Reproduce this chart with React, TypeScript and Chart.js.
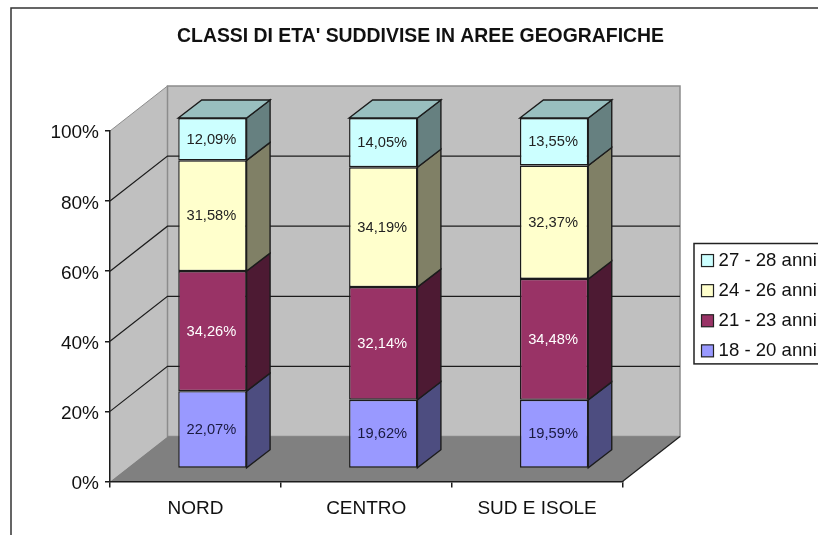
import React, { useEffect, useRef } from "react";
import { Chart, registerables } from "chart.js";

Chart.register(...registerables);

const categories = ["NORD", "CENTRO", "SUD E ISOLE"];
const seriesNames = ["18 - 20 anni", "21 - 23 anni", "24 - 26 anni", "27 - 28 anni"];
const age18to20 = [22.07, 19.62, 19.59];
const age21to23 = [34.26, 32.14, 34.48];
const age24to26 = [31.58, 34.19, 32.37];
const age27to28 = [12.09, 14.05, 13.55];
const titleText = "CLASSI DI ETA' SUDDIVISE IN AREE GEOGRAFICHE";

const frontColors = ["#9999FF", "#993366", "#FFFFCC", "#CCFFFF"];
const sideColors = ["#4D4D80", "#4D1A33", "#808066", "#668080"];
const topColors = ["#7373BF", "#73264D", "#BFBF99", "#99BFBF"];
const labelColors = ["#1a1a40", "#ffffff", "#222222", "#222222"];

const FONT = "'Liberation Sans', Arial, sans-serif";
const INK = "#1c1c1c";
const WALL_DX = 57.5;
const WALL_DY = -45;
const BAR_DX = 17;
const BAR_DY = -13;
const SIDE_DX = 23.5;
const SIDE_DY = -18;

function poly(ctx: CanvasRenderingContext2D, pts: number[][], fill: string | null, stroke: string | null, lw = 1) {
  ctx.beginPath();
  pts.forEach((p, i) => (i ? ctx.lineTo(p[0], p[1]) : ctx.moveTo(p[0], p[1])));
  ctx.closePath();
  if (fill) {
    ctx.fillStyle = fill;
    ctx.fill();
  }
  if (stroke) {
    ctx.strokeStyle = stroke;
    ctx.lineWidth = lw;
    ctx.stroke();
  }
}

const scene3d = {
  id: "scene3d",
  afterLayout(chart: any) {
    const lg = chart.legend;
    lg.left = 694;
    lg.right = 830;
    lg.width = 136;
    lg.top = 235.7;
    lg.bottom = 375.7;
    lg.height = 140;
  },
  afterUpdate(chart: any) {
    chart.scales.y.getLabelItems().forEach((item: any) => {
      item.textOffset += 2.2;
    });
  },
  beforeDraw(chart: any) {
    const ctx = chart.ctx as CanvasRenderingContext2D;
    const y = chart.scales.y;
    const a = chart.chartArea;
    const y0 = y.getPixelForValue(0);
    const y100 = y.getPixelForValue(100);
    ctx.save();
    // outer frame
    ctx.strokeStyle = "#333333";
    ctx.lineWidth = 1.5;
    ctx.beginPath();
    ctx.moveTo(11, 535);
    ctx.lineTo(11, 8);
    ctx.lineTo(818, 8);
    ctx.stroke();
    // walls and floor
    const bx = a.left + WALL_DX;
    const rx = a.right + WALL_DX;
    poly(ctx, [[a.left, y0], [bx, y0 + WALL_DY], [bx, y100 + WALL_DY], [a.left, y100]], "#C0C0C0", null);
    poly(ctx, [[bx, y0 + WALL_DY], [rx, y0 + WALL_DY], [rx, y100 + WALL_DY], [bx, y100 + WALL_DY]], "#C0C0C0", "#8C8C8C", 1.5);
    ctx.strokeStyle = "#8C8C8C";
    ctx.lineWidth = 1;
    ctx.beginPath();
    ctx.moveTo(a.left, y100);
    ctx.lineTo(bx, y100 + WALL_DY);
    ctx.stroke();
    poly(ctx, [[a.left, y0], [bx, y0 + WALL_DY], [rx, y0 + WALL_DY], [a.right, y0]], "#808080", null);
    // gridlines
    ctx.strokeStyle = INK;
    ctx.lineWidth = 1.2;
    y.ticks.forEach((t: any) => {
      if (t.value === 0 || t.value === 100) return;
      const py = y.getPixelForValue(t.value);
      ctx.beginPath();
      ctx.moveTo(a.left, py);
      ctx.lineTo(bx, py + WALL_DY);
      ctx.lineTo(rx, py + WALL_DY);
      ctx.stroke();
    });
    // right edge of floor
    ctx.beginPath();
    ctx.moveTo(a.right, y0);
    ctx.lineTo(rx, y0 + WALL_DY);
    ctx.stroke();
    ctx.restore();
  },
  beforeDatasetsDraw(chart: any) {
    chart.ctx.save();
    chart.ctx.translate(BAR_DX, BAR_DY);
  },
  afterDatasetsDraw(chart: any) {
    const ctx = chart.ctx as CanvasRenderingContext2D;
    const n = chart.data.datasets.length;
    chart.data.datasets.forEach((ds: any, di: number) => {
      chart.getDatasetMeta(di).data.forEach((bar: any, i: number) => {
        const right = bar.x + bar.width / 2;
        const left = bar.x - bar.width / 2;
        const top = bar.y;
        const bot = bar.base;
        poly(ctx, [[right, top], [right + SIDE_DX, top + SIDE_DY], [right + SIDE_DX, bot + SIDE_DY], [right, bot]], sideColors[di], INK, 1.4);
        if (di === n - 1) {
          poly(ctx, [[left, top], [left + SIDE_DX, top + SIDE_DY], [right + SIDE_DX, top + SIDE_DY], [right, top]], topColors[di], INK, 1.4);
        }
        ctx.fillStyle = labelColors[di];
        ctx.font = `14.7px ${FONT}`;
        ctx.textAlign = "center";
        ctx.textBaseline = "middle";
        ctx.fillText(ds.data[i].toFixed(2).replace(".", ",") + "%", bar.x - 1, (top + bot) / 2 + 0.5);
      });
    });
    ctx.restore();
  },
  afterDraw(chart: any) {
    const ctx = chart.ctx as CanvasRenderingContext2D;
    const lg = chart.legend;
    ctx.save();
    ctx.strokeStyle = "#222222";
    ctx.lineWidth = 1.5;
    ctx.strokeRect(lg.left, lg.top + 7.8, lg.right - lg.left, lg.bottom - lg.top - 19.6);
    lg.legendItems.forEach((item: any, i: number) => {
      const h = lg.legendHitBoxes[i];
      const cy = h.top + h.height / 2;
      ctx.fillStyle = item.fillStyle;
      ctx.strokeStyle = "#222222";
      ctx.lineWidth = 1.2;
      ctx.fillRect(h.left - 4, cy - 6, 12, 12);
      ctx.strokeRect(h.left - 4, cy - 6, 12, 12);
    });
    ctx.restore();
  },
};

export default function App() {
  const ref = useRef<HTMLCanvasElement>(null);
  useEffect(() => {
    const seriesValues = [age18to20, age21to23, age24to26, age27to28];
    const chart = new Chart(ref.current!, {
      type: "bar",
      data: {
        labels: categories,
        datasets: seriesNames.map((name, i) => ({
          label: name,
          data: seriesValues[i],
          backgroundColor: frontColors[i],
          borderColor: INK,
          borderWidth: 1.4,
          borderSkipped: false,
          barPercentage: 0.4,
          categoryPercentage: 1,
          clip: false,
        })),
      } as any,
      options: {
        responsive: false,
        animation: false,
        layout: { padding: { left: 23, top: 0, right: 0, bottom: 0 } },
        plugins: {
          tooltip: { enabled: false },
          title: {
            display: true,
            text: titleText,
            color: "#111111",
            font: { family: FONT, size: 19.4, weight: "bold" },
            padding: { top: 25.1, bottom: 82.6 },
          },
          legend: {
            position: "right",
            reverse: true,
            labels: {
              boxWidth: 3.75,
              boxHeight: 3.75,
              padding: 11.5,
              color: "#111111",
              font: { family: FONT, size: 18.6 },
            },
          },
        },
        scales: {
          x: {
            stacked: true,
            grid: { drawOnChartArea: false, color: INK, tickLength: 6, lineWidth: 1.5 },
            border: { color: INK, width: 1.5 },
            ticks: { color: "#111111", font: { family: FONT, size: 19 }, padding: 9.5, maxRotation: 0 },
            afterFit: (s: any) => {
              s.height = 53.5;
            },
          },
          y: {
            stacked: true,
            min: 0,
            max: 100,
            grid: { drawOnChartArea: false, color: INK, tickLength: 5, lineWidth: 1.5 },
            border: { color: INK, width: 1.5 },
            ticks: {
              stepSize: 20,
              color: "#111111",
              font: { family: FONT, size: 19 },
              padding: 6,
              callback: (v: any) => v + "%",
            },
            afterFit: (s: any) => {
              s.width = 87;
            },
          },
          spacer: {
            position: "right",
            grid: { display: false },
            border: { display: false },
            ticks: { display: false },
            afterFit: (s: any) => {
              s.width = 63;
            },
          },
        },
      } as any,
      plugins: [scene3d],
    });
    return () => chart.destroy();
  }, []);
  return (
    <div style={{ position: "fixed", left: 0, top: 0, width: 818, height: 535, background: "#fff", overflow: "hidden" }}>
      <canvas ref={ref} width={818} height={535} style={{ display: "block" }} />
    </div>
  );
}
